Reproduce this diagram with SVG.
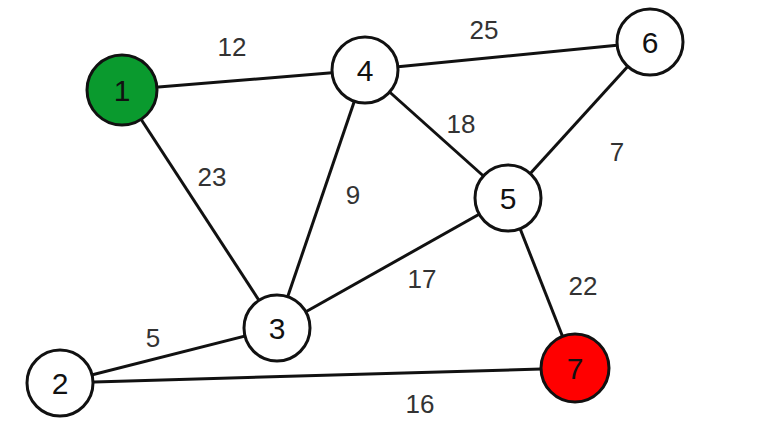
<svg xmlns="http://www.w3.org/2000/svg" width="769" height="445" viewBox="0 0 769 445">
<style>
.e{stroke:#111;stroke-width:3;fill:none}
.n{stroke:#111;stroke-width:3;fill:#fff}
.t{font-family:"Liberation Sans",Arial,sans-serif;font-size:30px;fill:#111;text-anchor:middle;dominant-baseline:central}
.l{font-family:"Liberation Sans",Arial,sans-serif;font-size:26px;fill:#333;text-anchor:middle;dominant-baseline:central}
</style>
<rect width="769" height="445" fill="#fff"/>
<g id="connectors">
<line class="e" x1="122" y1="90" x2="365" y2="70"/>
<line class="e" x1="365" y1="70" x2="650" y2="42"/>
<line class="e" x1="365" y1="70" x2="508" y2="198"/>
<line class="e" x1="650" y1="42" x2="508" y2="198"/>
<line class="e" x1="122" y1="90" x2="277" y2="328"/>
<line class="e" x1="365" y1="70" x2="277" y2="328"/>
<line class="e" x1="508" y1="198" x2="277" y2="328"/>
<line class="e" x1="508" y1="198" x2="575" y2="368"/>
<line class="e" x1="277" y1="328" x2="60" y2="383"/>
<line class="e" x1="60" y1="383" x2="575" y2="368"/>
<text class="l" x="232" y="47">12</text>
<text class="l" x="484" y="30">25</text>
<text class="l" x="461" y="124">18</text>
<text class="l" x="617" y="152">7</text>
<text class="l" x="212" y="177">23</text>
<text class="l" x="353" y="195">9</text>
<text class="l" x="422" y="279">17</text>
<text class="l" x="583" y="286">22</text>
<text class="l" x="153" y="338">5</text>
<text class="l" x="420" y="404">16</text>
</g>
<g id="n1"><circle class="n" cx="122" cy="90" r="35" fill="#0a9a2e" style="fill:#0a9a2e"/><text class="t" x="122" y="90">1</text></g>
<g id="n4"><circle class="n" cx="365" cy="70" r="33"/><text class="t" x="365" y="70">4</text></g>
<g id="n6"><circle class="n" cx="650" cy="42" r="33"/><text class="t" x="650" y="42">6</text></g>
<g id="n5"><circle class="n" cx="508" cy="198" r="33"/><text class="t" x="508" y="198">5</text></g>
<g id="n3"><circle class="n" cx="277" cy="328" r="33"/><text class="t" x="277" y="328">3</text></g>
<g id="n2"><circle class="n" cx="60" cy="383" r="33"/><text class="t" x="60" y="383">2</text></g>
<g id="n7"><circle class="n" cx="575" cy="368" r="34" style="fill:#f00"/><text class="t" x="575" y="368">7</text></g>
</svg>
